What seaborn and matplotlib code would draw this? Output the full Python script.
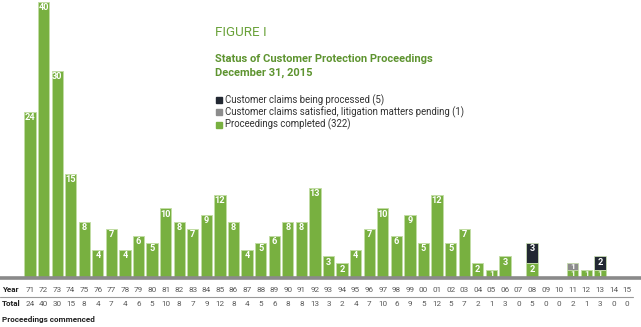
import matplotlib
matplotlib.use("Agg")
import matplotlib.pyplot as plt
import matplotlib.transforms as mtransforms
import seaborn as sns
import pandas as pd

years = ["71", "72", "73", "74", "75", "76", "77", "78", "79", "80",
         "81", "82", "83", "84", "85", "86", "87", "88", "89", "90",
         "91", "92", "93", "94", "95", "96", "97", "98", "99", "00",
         "01", "02", "03", "04", "05", "06", "07", "08", "09", "10",
         "11", "12", "13", "14", "15"]
completed = [24, 40, 30, 15, 8, 4, 7, 4, 6, 5,
             10, 8, 7, 9, 12, 8, 4, 5, 6, 8,
             8, 13, 3, 2, 4, 7, 10, 6, 9, 5,
             12, 5, 7, 2, 1, 3, 0, 2, 0, 0,
             1, 1, 1, 0, 0]
satisfied = [0] * 40 + [1, 0, 0, 0, 0]
processed = [0] * 37 + [3, 0, 0, 0, 0, 2, 0, 0]

series_names = ["Customer claims being processed (5)",
                "Customer claims satisfied, litigation matters pending (1)",
                "Proceedings completed (322)"]

GREEN = "#78b040"
GRAY = "#8c8c8c"
DARK = "#222832"
TITLE_GREEN = "#5e9430"

sns.set_theme(style="white")
plt.rcParams["font.family"] = ["Roboto", "DejaVu Sans"]

df = pd.DataFrame({"year": years, "completed": completed,
                   "satisfied": satisfied, "processed": processed})
df["lvl2"] = df["completed"] + df["satisfied"]
df["total"] = df["lvl2"] + df["processed"]

W, H = 641, 327
fig = plt.figure(figsize=(W / 100, H / 100), dpi=100)
base_px = 277.0
ax = fig.add_axes([0, (H - base_px) / H, 1, base_px / H])

common = dict(x="year", order=years, width=0.83, ax=ax, linewidth=0.5,
              edgecolor="#d2e8b8", saturation=1)
sns.barplot(data=df, y="total", color=DARK, **common)
sns.barplot(data=df, y="lvl2", color=GRAY, **common)
sns.barplot(data=df, y="completed", color=GREEN, **common)
for p in ax.patches:
    if p.get_height() <= 0:
        p.set_visible(False)

spacing = 13.57
x0 = 30.0
ax.set_xlim(-x0 / spacing, (W - x0) / spacing)
ax.set_ylim(0, base_px / 6.875)
ax.axis("off")

def seg_label(i, bottom, seg):
    if seg <= 0:
        return
    y = bottom + max(seg - 0.85, seg / 2 + 0.05)
    ax.text(i, y, str(seg), ha="center", va="center", color="white",
            fontsize=6.6 if seg > 1 else 6.0, fontweight="bold", zorder=5)

for i in range(len(years)):
    seg_label(i, 0, completed[i])
    seg_label(i, completed[i], satisfied[i])
    seg_label(i, completed[i] + satisfied[i], processed[i])

def fy(px):
    return 1 - px / H

# baseline
fig.add_artist(plt.Line2D([0, 1], [fy(278), fy(278)], color="#8a8a8a",
                          lw=2.6, transform=fig.transFigure))

trans = mtransforms.blended_transform_factory(ax.transData, fig.transFigure)
for i, (yr, tot) in enumerate(zip(years, df["total"])):
    ax.text(i, fy(289.5), yr, transform=trans, ha="center", va="center",
            fontsize=5.9, color="#5a5a5a")
    ax.text(i, fy(303.5), str(tot), transform=trans, ha="center", va="center",
            fontsize=5.9, color="#5a5a5a")
fig.text(2 / W, fy(289.5), "Year", ha="left", va="center", fontsize=5.9,
         fontweight="bold", color="#222222")
fig.text(2 / W, fy(303.5), "Total", ha="left", va="center", fontsize=5.9,
         fontweight="bold", color="#222222")
fig.text(2 / W, fy(319.5), "Proceedings commenced", ha="left", va="center",
         fontsize=5.9, fontweight="bold", color="#222222")
fig.add_artist(plt.Line2D([0, 633 / W], [fy(297.3), fy(297.3)],
                          color="#9a9a9a", lw=0.8, transform=fig.transFigure))

# titles
fig.text(215 / W, fy(33), "FIGURE I", ha="left", va="center", fontsize=9.6,
         color="#6aa23a")
fig.text(215 / W, fy(59), "Status of Customer Protection Proceedings",
         ha="left", va="center", fontsize=8.0, fontweight="bold",
         color=TITLE_GREEN)
fig.text(215 / W, fy(73), "December 31, 2015", ha="left", va="center",
         fontsize=8.0, fontweight="bold", color=TITLE_GREEN)

# legend
for k, (name, col) in enumerate(zip(series_names, [DARK, GRAY, GREEN])):
    yy = 100 + 12.3 * k
    fig.add_artist(plt.Rectangle((216 / W, fy(yy + 3)), 6 / W, 6 / H,
                                 color=col, transform=fig.transFigure))
    fig.text(225 / W, fy(yy), name, ha="left", va="center", fontsize=6.9,
             color="#333333")

fig.savefig("out.png", dpi=100)
